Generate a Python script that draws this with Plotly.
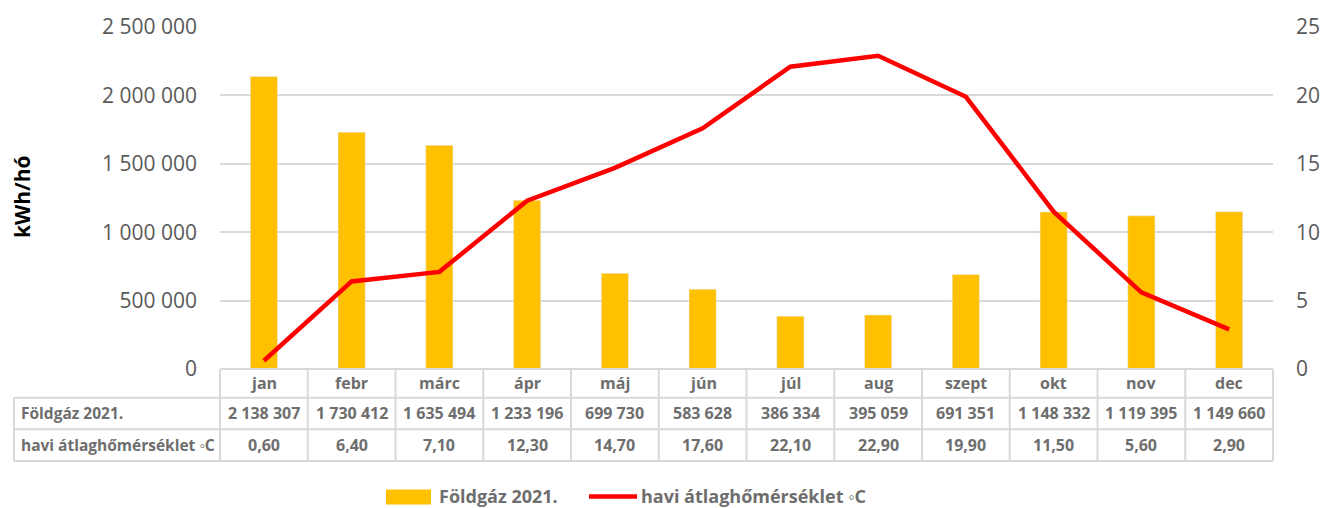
import plotly.graph_objects as go

months = ["jan", "febr", "márc", "ápr", "máj", "jún", "júl", "aug", "szept", "okt", "nov", "dec"]
gas = [2138307, 1730412, 1635494, 1233196, 699730, 583628, 386334, 395059, 691351, 1148332, 1119395, 1149660]
temp = [0.60, 6.40, 7.10, 12.30, 14.70, 17.60, 22.10, 22.90, 19.90, 11.50, 5.60, 2.90]
gas_name = "Földgáz 2021."
temp_name = "havi átlaghőmérséklet ◦C"
y_title = "kWh/hó"

W, H = 1332, 508
L, R, T, B = 220, 1273, 23, 369   # plot area in pixels
PW, PH = R - L, B - T

def px(x):
    return (x - L) / PW

def py(y):
    return (B - y) / PH

GRID = "#d9d9d9"
TXT = "#6e6e6e"
TICK = "#595959"
FONT = "Open Sans"

fig = go.Figure()
fig.add_trace(go.Bar(x=months, y=gas, name=gas_name, marker_color="#FFC000",
                     width=0.31, yaxis="y"))
fig.add_trace(go.Scatter(x=months, y=temp, name=temp_name, mode="lines",
                         line=dict(color="#FF0000", width=4.5), yaxis="y2"))

shapes = []
annotations = []

# table geometry (pixels)
rows = [369, 398, 430, 462]
label_left = 14
n = len(months)
shapes.append(dict(type="line", xref="paper", yref="paper", x0=0, x1=1,
                   y0=py(rows[0]), y1=py(rows[0]), line=dict(color=GRID, width=2)))
for r in rows[1:]:
    shapes.append(dict(type="line", xref="paper", yref="paper", x0=px(label_left), x1=1,
                       y0=py(r), y1=py(r), line=dict(color=GRID, width=2)))
for i in range(n + 1):
    xv = px(L + i * PW / n)
    shapes.append(dict(type="line", xref="paper", yref="paper", x0=xv, x1=xv,
                       y0=py(rows[0]), y1=py(rows[3]), line=dict(color=GRID, width=2)))
shapes.append(dict(type="line", xref="paper", yref="paper", x0=px(label_left), x1=px(label_left),
                   y0=py(rows[1]), y1=py(rows[3]), line=dict(color=GRID, width=2)))

def mid(a, b):
    return py((a + b) / 2)

def fmt_int(v):
    return f"{v:,}".replace(",", " ")

def fmt_dec(v):
    return f"{v:.2f}".replace(".", ",")

cell_font = dict(family=FONT, size=16, color=TXT)
for i, m in enumerate(months):
    annotations.append(dict(x=m, xref="x", y=mid(rows[0], rows[1]), yref="paper", yanchor="middle",
                            text=f"<b>{m}</b>", showarrow=False, font=cell_font))
    annotations.append(dict(x=m, xref="x", y=mid(rows[1], rows[2]), yref="paper", yanchor="middle",
                            text=f"<b>{fmt_int(gas[i])}</b>", showarrow=False, font=cell_font))
    annotations.append(dict(x=m, xref="x", y=mid(rows[2], rows[3]), yref="paper", yanchor="middle",
                            text=f"<b>{fmt_dec(temp[i])}</b>", showarrow=False, font=cell_font))
label_font = dict(family=FONT, size=15.5, color=TXT)
annotations.append(dict(x=px(19), xref="paper", xanchor="left", y=mid(rows[1], rows[2]), yref="paper",
                        yanchor="middle", text=f"<b>{gas_name}</b>", showarrow=False, font=label_font))
annotations.append(dict(x=px(19), xref="paper", xanchor="left", y=mid(rows[2], rows[3]), yref="paper",
                        yanchor="middle", text=f"<b>{temp_name}</b>", showarrow=False, font=label_font))

# y-axis title
annotations.append(dict(x=px(22), xref="paper", y=py(195), yref="paper", text=f"<b>{y_title}</b>",
                        xanchor="center", yanchor="middle",
                        textangle=-90, showarrow=False, font=dict(family=FONT, size=21, color="#000000")))

# legend (manual)
shapes.append(dict(type="rect", xref="paper", yref="paper", x0=px(386), x1=px(431),
                   y0=py(506), y1=py(491), fillcolor="#FFC000", line=dict(width=0)))
annotations.append(dict(x=px(437), xref="paper", xanchor="left", y=py(497), yref="paper",
                        yanchor="middle", text=f"<b>{gas_name}</b>", showarrow=False,
                        font=dict(family=FONT, size=18, color=TXT)))
shapes.append(dict(type="line", xref="paper", yref="paper", x0=px(589), x1=px(637),
                   y0=py(498), y1=py(498), line=dict(color="#FF0000", width=4.5)))
annotations.append(dict(x=px(639), xref="paper", xanchor="left", y=py(497), yref="paper",
                        yanchor="middle", text=f"<b>{temp_name}</b>", showarrow=False,
                        font=dict(family=FONT, size=18, color=TXT)))

fig.update_layout(
    width=W, height=H,
    margin=dict(l=L, r=W - R, t=T, b=H - B, pad=0),
    paper_bgcolor="white", plot_bgcolor="white",
    showlegend=False,
    separators=", ",
    font=dict(family=FONT, color=TICK),
    xaxis=dict(type="category", range=[-0.5, 11.5], showticklabels=False, showgrid=False,
               zeroline=False, showline=False, ticks=""),
    yaxis=dict(range=[0, 2500000], dtick=500000, tickformat=",d", showgrid=True, gridcolor=GRID,
               gridwidth=1.5, zeroline=False, showline=False, ticks="", ticklabelstandoff=22,
               tickfont=dict(family=FONT, size=21, color=TICK)),
    yaxis2=dict(range=[0, 25], dtick=5, overlaying="y", side="right", showgrid=False,
                zeroline=False, showline=False, ticks="", ticklabelstandoff=22,
                tickfont=dict(family=FONT, size=21, color=TICK)),
    shapes=shapes,
    annotations=annotations,
)

fig.write_html("out.html", config={"displayModeBar": False})
with open("out.html", "r", encoding="utf-8") as f:
    html = f.read()
html = html.replace("<head>", "<head><style>html,body{margin:0;padding:0;overflow:hidden;}</style>", 1)
with open("out.html", "w", encoding="utf-8") as f:
    f.write(html)
